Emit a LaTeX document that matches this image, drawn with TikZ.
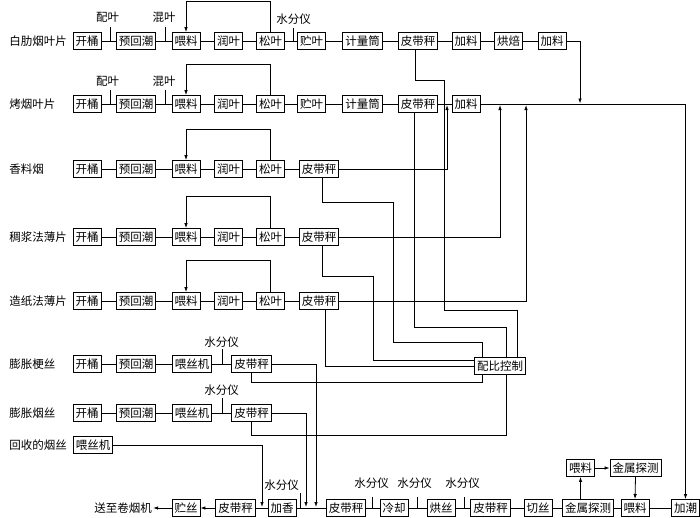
\documentclass[tikz,border=0pt]{standalone}
\usepackage{fontspec}
\newfontfamily\cjk{Noto Sans CJK SC}
\usetikzlibrary{arrows.meta}

\tikzset{
  box/.style={draw, font=\cjk\fontsize{11.5}{13}\selectfont, inner xsep=2.5pt, inner ysep=1pt, minimum height=17pt},
  txt/.style={font=\cjk\fontsize{11.5}{13}\selectfont, inner sep=1pt},
  flow/.style={-{Latex[length=5pt,width=3.5pt]}},
}

\begin{document}
\begin{tikzpicture}[x=1pt, y=-1pt, line width=0.8pt]
\useasboundingbox (0,0) rectangle (700,517);

% nodes
\node[txt, anchor=west] (a0) at (8,41) {白肋烟叶片};
\node[box] (a1) at (87,41) {开桶};
\node[box] (a2) at (136,41) {预回潮};
\node[box] (a3) at (186,41) {喂料};
\node[box] (a4) at (228.5,41) {润叶};
\node[box] (a5) at (270.5,41) {松叶};
\node[box] (a6) at (311.5,41) {贮叶};
\node[box] (a7) at (362.5,41) {计量筒};
\node[box] (a8) at (418,41) {皮带秤};
\node[box] (a9) at (466,41) {加料};
\node[box] (a10) at (508.5,41) {烘焙};
\node[box] (a11) at (552,41) {加料};

\node[txt, anchor=west] (b0) at (8,104) {烤烟叶片};
\node[box] (b1) at (87,104) {开桶};
\node[box] (b2) at (136,104) {预回潮};
\node[box] (b3) at (186,104) {喂料};
\node[box] (b4) at (228.5,104) {润叶};
\node[box] (b5) at (270.5,104) {松叶};
\node[box] (b6) at (311.5,104) {贮叶};
\node[box] (b7) at (362.5,104) {计量筒};
\node[box] (b8) at (418,104) {皮带秤};
\node[box] (b9) at (466,104) {加料};

\node[txt, anchor=west] (c0) at (8,169) {香料烟};
\node[box] (c1) at (87,169) {开桶};
\node[box] (c2) at (136,169) {预回潮};
\node[box] (c3) at (186,169) {喂料};
\node[box] (c4) at (228.5,169) {润叶};
\node[box] (c5) at (270.5,169) {松叶};
\node[box] (c6) at (319,169) {皮带秤};

\node[txt, anchor=west] (d0) at (8,237) {稠浆法薄片};
\node[box] (d1) at (87,237) {开桶};
\node[box] (d2) at (136,237) {预回潮};
\node[box] (d3) at (186,237) {喂料};
\node[box] (d4) at (228.5,237) {润叶};
\node[box] (d5) at (270.5,237) {松叶};
\node[box] (d6) at (319,237) {皮带秤};

\node[txt, anchor=west] (e0) at (8,301) {造纸法薄片};
\node[box] (e1) at (87,301) {开桶};
\node[box] (e2) at (136,301) {预回潮};
\node[box] (e3) at (186,301) {喂料};
\node[box] (e4) at (228.5,301) {润叶};
\node[box] (e5) at (270.5,301) {松叶};
\node[box] (e6) at (319,301) {皮带秤};

\node[txt, anchor=west] (f0) at (8,364) {膨胀梗丝};
\node[box] (f1) at (87,364) {开桶};
\node[box] (f2) at (136,364) {预回潮};
\node[box] (f3) at (192,364) {喂丝机};
\node[box] (f4) at (251.5,364) {皮带秤};

\node[txt, anchor=west] (g0) at (8,413) {膨胀烟丝};
\node[box] (g1) at (87,413) {开桶};
\node[box] (g2) at (136,413) {预回潮};
\node[box] (g3) at (192,413) {喂丝机};
\node[box] (g4) at (251.5,413) {皮带秤};

\node[txt, anchor=west] (h0) at (8,445) {回收的烟丝};
\node[box] (h1) at (93,445) {喂丝机};

\node[box] (k) at (500,366) {配比控制};

\node[txt] (z0) at (123,508) {送至卷烟机};
\node[box] (z1) at (186,508) {贮丝};
\node[box] (z2) at (235.5,508) {皮带秤};
\node[box] (z3) at (282,508) {加香};
\node[box] (z4) at (346,508) {皮带秤};
\node[box] (z5) at (394,508) {冷却};
\node[box] (z6) at (441,508) {烘丝};
\node[box] (z7) at (490.5,508) {皮带秤};
\node[box] (z8) at (538,508) {切丝};
\node[box] (z9) at (588,508) {金属探测};
\node[box] (z10) at (635,508) {喂料};
\node[box] (z11) at (685.5,508) {加潮};
\node[box] (y1) at (580.5,468) {喂料};
\node[box] (y2) at (635.5,468) {金属探测};

% labels with ticks
\node[txt] (p1) at (107.5,17) {配叶};
\node[txt] (p2) at (164,17) {混叶};
\node[txt] (p3) at (293.5,19) {水分仪};
\node[txt] (p4) at (107.5,81) {配叶};
\node[txt] (p5) at (164,81) {混叶};
\node[txt] (p6) at (221.5,342) {水分仪};
\node[txt] (p7) at (221.5,390) {水分仪};
\node[txt] (p8) at (281.5,485) {水分仪};
\node[txt] (p9) at (371.5,483) {水分仪};
\node[txt] (p10) at (414.5,483) {水分仪};
\node[txt] (p11) at (462.5,483) {水分仪};

\coordinate (t1) at (110,41);
\coordinate (t2) at (165,41);
\coordinate (t3) at (293,41);
\coordinate (t4) at (110,104);
\coordinate (t5) at (165,104);
\coordinate (t6) at (222,364);
\coordinate (t7) at (222,413);
\coordinate (t8) at (300,508);
\coordinate (t9) at (372,508);
\coordinate (t10) at (417,508);
\coordinate (t11) at (464,508);

\draw (t1) -- ++(0,-14);
\draw (t2) -- ++(0,-14);
\draw (t3) -- ++(0,-13);
\draw (t4) -- ++(0,-14);
\draw (t5) -- ++(0,-14);
\draw (t6) -- ++(0,-15);
\draw (t7) -- ++(0,-15);
\draw (t8) -- ++(0,-15);
\draw (t9) -- ++(0,-11);
\draw (t10) -- ++(0,-11);
\draw (t11) -- ++(0,-11);

% row lines
\draw (a1) -- (a2) -- (a3) -- (a4) -- (a5) -- (a6) -- (a7) -- (a8) -- (a9) -- (a10) -- (a11);
\draw (b1) -- (b2) -- (b3) -- (b4) -- (b5) -- (b6) -- (b7) -- (b8) -- (b9);
\draw (c1) -- (c2) -- (c3) -- (c4) -- (c5) -- (c6);
\draw (d1) -- (d2) -- (d3) -- (d4) -- (d5) -- (d6);
\draw (e1) -- (e2) -- (e3) -- (e4) -- (e5) -- (e6);
\draw (f1) -- (f2) -- (f3) -- (f4);
\draw (g1) -- (g2) -- (g3) -- (g4);
\draw (z11) -- (z10) -- (z9) -- (z8) -- (z7) -- (z6) -- (z5) -- (z4) -- (z3) -- (z2);
\draw[flow] (z2) -- (z1);
\draw[flow] (z1) -- (z0);

% loops back to feeding
\draw[flow] (a5.north) -- ++(0,-31) -| (a3.north);
\draw[flow] (b5.north) -- ++(0,-31) -| (b3.north);
\draw[flow] (c5.north) -- ++(0,-31) -| (c3.north);
\draw[flow] (d5.north) -- ++(0,-32) -| (d3.north);
\draw[flow] (e5.north) -- ++(0,-32) -| (e3.north);

% into the blending line
\coordinate (m1) at (580,103.5);
\coordinate (m2) at (447,105);
\coordinate (m3) at (500,105);
\coordinate (m4) at (526,105);
\draw[flow] (a11.east) -| (m1);
\draw[flow] (c6.east) -| (m2);
\draw[flow] (d6.east) -| (m3);
\draw[flow] (e6.east) -| (m4);
\draw[flow] (b9.east) -| (z11.north);

% ratio control
\draw ([xshift=-3pt]a8.south) |- (444,80) |- (517,310) -- ([xshift=17pt]k.north);
\draw ([xshift=-4pt]b8.south) |- (506,327) -- ([xshift=6pt]k.north);
\draw ([xshift=3pt]c6.south) |- (393,202) |- (482,342) -- ([xshift=-18pt]k.north);
\draw ([xshift=3pt]d6.south) |- (373,276) |- ([yshift=6pt]k.west);
\draw ([xshift=6pt]e6.south) |- (k.west);
\draw (f4.south) |- (482,382) -- ([xshift=-18pt]k.south);
\draw (g4.south) |- (506,435) -- ([xshift=6pt]k.south);

% into the bottom line
\coordinate (n1) at (316,507);
\coordinate (n2) at (306,507);
\coordinate (n3) at (262,507);
\draw[flow] (f4.east) -| (n1);
\draw[flow] (g4.east) -| (n2);
\draw[flow] (h1.east) -| (n3);

% metal detection
\draw[flow] (y1.south |- z9.north) -- (y1.south);
\draw[flow] (y1) -- (y2);
\draw[flow] (y2.south) -- (z10.north);

\end{tikzpicture}
\end{document}
